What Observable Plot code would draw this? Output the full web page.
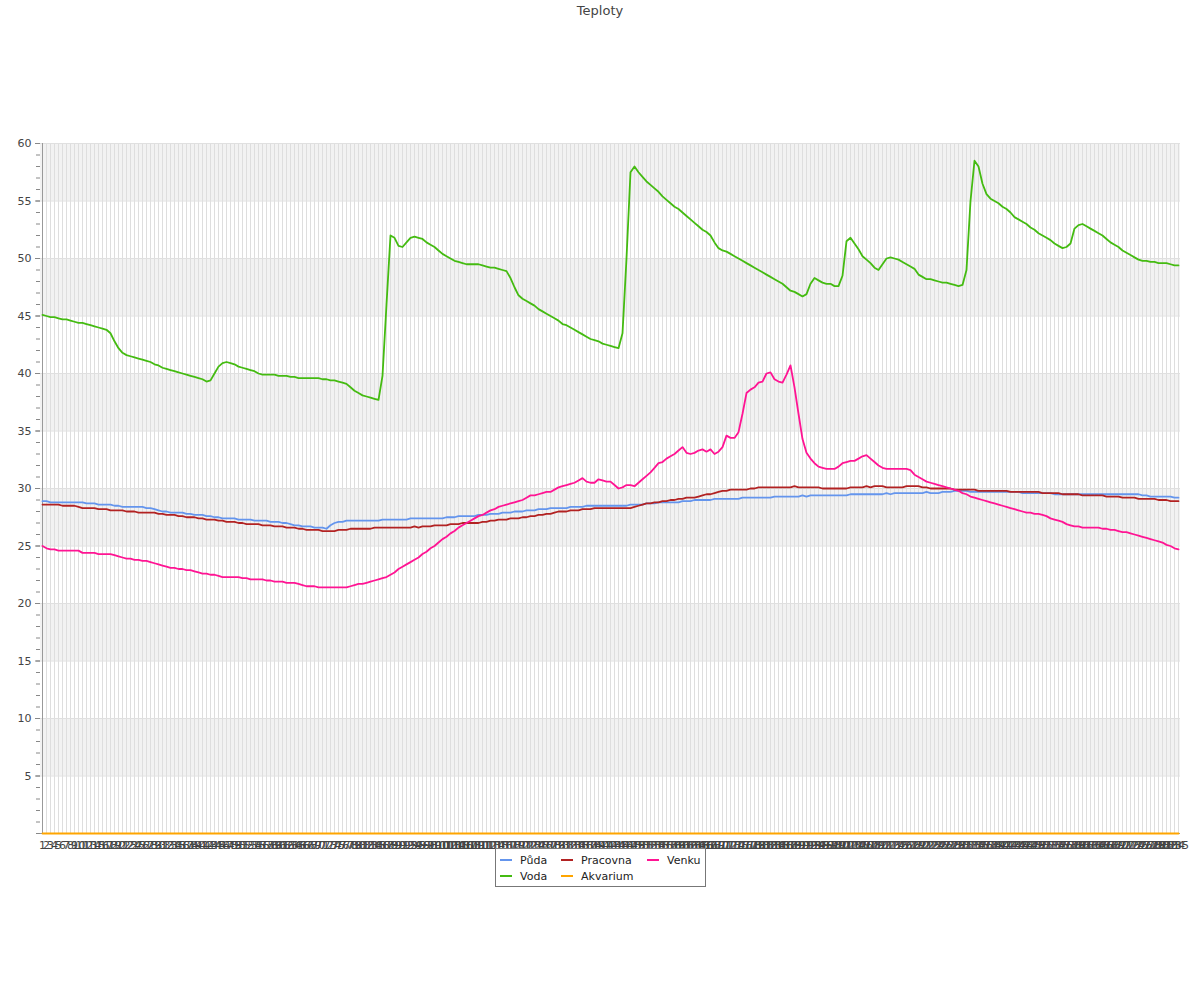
<!DOCTYPE html>
<html>
<head>
<meta charset="utf-8">
<script src="https://cdn.jsdelivr.net/npm/d3@7"></script>
<script src="https://cdn.jsdelivr.net/npm/@observablehq/plot@0.6"></script>
<style>
  html, body { margin: 0; padding: 0; background: #fff; }
  body { width: 1200px; height: 1000px; position: relative; font-family: "DejaVu Sans", sans-serif; }
  #title { position: absolute; top: 3px; left: 0; width: 1200px; text-align: center; font-size: 13px; color: #444; }
  #chart { position: absolute; top: 0; left: 0; }
  #legend { position: absolute; top: 848px; left: 495px; border: 1px solid #777; background: #fff;
            display: grid; grid-auto-flow: column; grid-template-rows: 16px 16px;
            grid-template-columns: 61px 86px 54px; padding: 3px 4px 2px 4px; font-size: 11px; color: #222; }
  .item { display: flex; align-items: center; white-space: nowrap; }
  .sw { width: 12px; height: 2px; margin-right: 8px; }
</style>
</head>
<body>
<div id="title">Teploty</div>
<div id="chart"></div>
<div id="legend"></div>
<script>
const labels = d3.range(1, 286).map(String);
const seriesNames = ["Půda", "Voda", "Pracovna", "Akvarium", "Venku"];
const seriesColors = ["#6495ed", "#44bb11", "#b22222", "#ffa500", "#ff1493"];
const yMajor = [5, 10, 15, 20, 25, 30, 35, 40, 45, 50, 55, 60];
const bandStarts = [5, 15, 25, 35, 45, 55];

const puda = [
28.9,28.9,28.8,28.8,28.8,28.8,28.8,28.8,28.8,28.8,
28.8,28.7,28.7,28.7,28.6,28.6,28.6,28.6,28.5,28.5,
28.4,28.4,28.4,28.4,28.4,28.4,28.3,28.3,28.2,28.1,
28.0,28.0,27.9,27.9,27.9,27.9,27.8,27.8,27.7,27.7,
27.7,27.6,27.6,27.5,27.5,27.4,27.4,27.4,27.4,27.3,
27.3,27.3,27.3,27.2,27.2,27.2,27.2,27.1,27.1,27.1,
27.0,27.0,26.9,26.8,26.8,26.7,26.7,26.7,26.6,26.6,
26.6,26.5,26.8,27.0,27.1,27.1,27.2,27.2,27.2,27.2,
27.2,27.2,27.2,27.2,27.2,27.3,27.3,27.3,27.3,27.3,
27.3,27.3,27.4,27.4,27.4,27.4,27.4,27.4,27.4,27.4,
27.4,27.5,27.5,27.5,27.6,27.6,27.6,27.6,27.6,27.7,
27.7,27.7,27.8,27.8,27.8,27.9,27.9,27.9,28.0,28.0,
28.0,28.1,28.1,28.1,28.2,28.2,28.2,28.3,28.3,28.3,
28.3,28.3,28.4,28.4,28.4,28.4,28.5,28.5,28.5,28.5,
28.5,28.5,28.5,28.5,28.5,28.5,28.5,28.6,28.6,28.6,
28.6,28.7,28.7,28.7,28.8,28.8,28.8,28.8,28.8,28.8,
28.9,28.9,28.9,29.0,29.0,29.0,29.0,29.0,29.1,29.1,
29.1,29.1,29.1,29.1,29.1,29.2,29.2,29.2,29.2,29.2,
29.2,29.2,29.2,29.3,29.3,29.3,29.3,29.3,29.3,29.3,
29.4,29.3,29.4,29.4,29.4,29.4,29.4,29.4,29.4,29.4,
29.4,29.4,29.5,29.5,29.5,29.5,29.5,29.5,29.5,29.5,
29.5,29.6,29.5,29.6,29.6,29.6,29.6,29.6,29.6,29.6,
29.6,29.7,29.6,29.6,29.6,29.7,29.7,29.7,29.8,29.8,
29.8,29.8,29.7,29.7,29.7,29.7,29.7,29.7,29.7,29.7,
29.7,29.7,29.7,29.7,29.7,29.6,29.6,29.6,29.6,29.6,
29.6,29.6,29.6,29.5,29.5,29.5,29.5,29.5,29.5,29.5,
29.5,29.5,29.5,29.5,29.5,29.5,29.5,29.5,29.5,29.5,
29.5,29.5,29.5,29.5,29.5,29.4,29.4,29.3,29.3,29.3,
29.3,29.3,29.3,29.2,29.2
];

const voda = [
45.1,45.0,44.9,44.9,44.8,44.7,44.7,44.6,44.5,44.4,
44.4,44.3,44.2,44.1,44.0,43.9,43.8,43.5,42.8,42.2,
41.8,41.6,41.5,41.4,41.3,41.2,41.1,41.0,40.8,40.7,
40.5,40.4,40.3,40.2,40.1,40.0,39.9,39.8,39.7,39.6,
39.5,39.3,39.4,40.0,40.6,40.9,41.0,40.9,40.8,40.6,
40.5,40.4,40.3,40.2,40.0,39.9,39.9,39.9,39.9,39.8,
39.8,39.8,39.7,39.7,39.6,39.6,39.6,39.6,39.6,39.6,
39.5,39.5,39.4,39.4,39.3,39.2,39.1,38.8,38.5,38.3,
38.1,38.0,37.9,37.8,37.7,39.8,46.0,52.0,51.8,51.1,
51.0,51.4,51.8,51.9,51.8,51.7,51.4,51.2,51.0,50.7,
50.4,50.2,50.0,49.8,49.7,49.6,49.5,49.5,49.5,49.5,
49.4,49.3,49.2,49.2,49.1,49.0,48.9,48.3,47.5,46.8,
46.5,46.3,46.1,45.9,45.6,45.4,45.2,45.0,44.8,44.6,
44.3,44.2,44.0,43.8,43.6,43.4,43.2,43.0,42.9,42.8,
42.6,42.5,42.4,42.3,42.2,43.5,50.0,57.5,58.0,57.5,
57.1,56.7,56.4,56.1,55.8,55.4,55.1,54.8,54.5,54.3,
54.0,53.7,53.4,53.1,52.8,52.5,52.3,52.0,51.4,50.9,
50.7,50.6,50.4,50.2,50.0,49.8,49.6,49.4,49.2,49.0,
48.8,48.6,48.4,48.2,48.0,47.8,47.5,47.2,47.1,46.9,
46.7,46.9,47.8,48.3,48.1,47.9,47.8,47.8,47.6,47.6,
48.5,51.5,51.8,51.3,50.8,50.2,49.9,49.6,49.2,49.0,
49.5,50.0,50.1,50.0,49.9,49.7,49.5,49.3,49.1,48.6,
48.4,48.2,48.2,48.1,48.0,47.9,47.9,47.8,47.7,47.6,
47.7,49.0,55.0,58.5,58.0,56.5,55.6,55.2,55.0,54.8,
54.5,54.3,54.0,53.6,53.4,53.2,53.0,52.7,52.5,52.2,
52.0,51.8,51.6,51.3,51.1,50.9,51.0,51.3,52.6,52.9,
53.0,52.8,52.6,52.4,52.2,52.0,51.7,51.4,51.2,51.0,
50.7,50.5,50.3,50.1,49.9,49.8,49.8,49.7,49.7,49.6,
49.6,49.6,49.5,49.4,49.4
];

const pracovna = [
28.6,28.6,28.6,28.6,28.6,28.5,28.5,28.5,28.5,28.4,
28.3,28.3,28.3,28.3,28.2,28.2,28.2,28.1,28.1,28.1,
28.1,28.0,28.0,28.0,27.9,27.9,27.9,27.9,27.9,27.8,
27.8,27.7,27.7,27.7,27.6,27.6,27.5,27.5,27.5,27.4,
27.4,27.3,27.3,27.3,27.2,27.2,27.1,27.1,27.1,27.0,
27.0,26.9,26.9,26.9,26.9,26.8,26.8,26.8,26.7,26.7,
26.7,26.6,26.6,26.6,26.5,26.5,26.4,26.4,26.4,26.4,
26.3,26.3,26.3,26.3,26.4,26.4,26.4,26.5,26.5,26.5,
26.5,26.5,26.5,26.6,26.6,26.6,26.6,26.6,26.6,26.6,
26.6,26.6,26.6,26.7,26.6,26.7,26.7,26.7,26.8,26.8,
26.8,26.8,26.9,26.9,26.9,27.0,27.0,27.0,27.0,27.0,
27.1,27.1,27.2,27.2,27.3,27.3,27.3,27.4,27.4,27.4,
27.5,27.5,27.6,27.6,27.7,27.7,27.8,27.8,27.9,28.0,
28.0,28.0,28.1,28.1,28.1,28.2,28.2,28.2,28.3,28.3,
28.3,28.3,28.3,28.3,28.3,28.3,28.3,28.3,28.4,28.5,
28.6,28.7,28.7,28.8,28.8,28.9,28.9,29.0,29.0,29.1,
29.1,29.2,29.2,29.2,29.3,29.4,29.5,29.5,29.6,29.7,
29.8,29.8,29.9,29.9,29.9,29.9,29.9,30.0,30.0,30.1,
30.1,30.1,30.1,30.1,30.1,30.1,30.1,30.1,30.2,30.1,
30.1,30.1,30.1,30.1,30.1,30.0,30.0,30.0,30.0,30.0,
30.0,30.0,30.1,30.1,30.1,30.1,30.2,30.1,30.2,30.2,
30.2,30.1,30.1,30.1,30.1,30.1,30.2,30.2,30.2,30.2,
30.1,30.1,30.0,30.0,30.0,30.0,30.0,30.0,29.9,29.9,
29.9,29.9,29.9,29.9,29.8,29.8,29.8,29.8,29.8,29.8,
29.8,29.8,29.7,29.7,29.7,29.7,29.7,29.7,29.7,29.7,
29.6,29.6,29.6,29.6,29.6,29.5,29.5,29.5,29.5,29.5,
29.4,29.4,29.4,29.4,29.4,29.4,29.3,29.3,29.3,29.3,
29.2,29.2,29.2,29.2,29.1,29.1,29.1,29.1,29.1,29.0,
29.0,29.0,28.9,28.9,28.9
];

const akvarium = [
0,0,0,0,0,0,0,0,0,0, 0,0,0,0,0,0,0,0,0,0, 0,0,0,0,0,0,0,0,0,0,
0,0,0,0,0,0,0,0,0,0, 0,0,0,0,0,0,0,0,0,0, 0,0,0,0,0,0,0,0,0,0,
0,0,0,0,0,0,0,0,0,0, 0,0,0,0,0,0,0,0,0,0, 0,0,0,0,0,0,0,0,0,0,
0,0,0,0,0,0,0,0,0,0, 0,0,0,0,0,0,0,0,0,0, 0,0,0,0,0,0,0,0,0,0,
0,0,0,0,0,0,0,0,0,0, 0,0,0,0,0,0,0,0,0,0, 0,0,0,0,0,0,0,0,0,0,
0,0,0,0,0,0,0,0,0,0, 0,0,0,0,0,0,0,0,0,0, 0,0,0,0,0,0,0,0,0,0,
0,0,0,0,0,0,0,0,0,0, 0,0,0,0,0,0,0,0,0,0, 0,0,0,0,0,0,0,0,0,0,
0,0,0,0,0,0,0,0,0,0, 0,0,0,0,0,0,0,0,0,0, 0,0,0,0,0,0,0,0,0,0,
0,0,0,0,0,0,0,0,0,0, 0,0,0,0,0,0,0,0,0,0, 0,0,0,0,0,0,0,0,0,0,
0,0,0,0,0,0,0,0,0,0, 0,0,0,0,0
];

const venku = [
25.0,24.8,24.7,24.7,24.6,24.6,24.6,24.6,24.6,24.6,
24.4,24.4,24.4,24.4,24.3,24.3,24.3,24.3,24.2,24.1,
24.0,23.9,23.9,23.8,23.8,23.7,23.7,23.6,23.5,23.4,
23.3,23.2,23.1,23.1,23.0,23.0,22.9,22.9,22.8,22.7,
22.6,22.6,22.5,22.5,22.4,22.3,22.3,22.3,22.3,22.3,
22.2,22.2,22.1,22.1,22.1,22.1,22.0,22.0,21.9,21.9,
21.9,21.8,21.8,21.8,21.7,21.6,21.5,21.5,21.5,21.4,
21.4,21.4,21.4,21.4,21.4,21.4,21.4,21.5,21.6,21.7,
21.7,21.8,21.9,22.0,22.1,22.2,22.3,22.5,22.7,23.0,
23.2,23.4,23.6,23.8,24.0,24.3,24.5,24.8,25.0,25.3,
25.6,25.8,26.1,26.3,26.6,26.8,27.0,27.2,27.4,27.6,
27.7,27.9,28.1,28.2,28.4,28.5,28.6,28.7,28.8,28.9,
29.0,29.2,29.4,29.4,29.5,29.6,29.7,29.7,29.9,30.1,
30.2,30.3,30.4,30.5,30.7,30.9,30.6,30.5,30.5,30.8,
30.7,30.6,30.6,30.3,30.0,30.1,30.3,30.3,30.2,30.5,
30.8,31.1,31.4,31.8,32.2,32.3,32.6,32.8,33.0,33.3,
33.6,33.1,33.0,33.1,33.3,33.4,33.2,33.4,33.0,33.2,
33.6,34.6,34.4,34.4,34.9,36.5,38.3,38.6,38.8,39.2,
39.3,40.0,40.1,39.5,39.3,39.2,39.9,40.7,38.8,36.5,
34.3,33.1,32.6,32.2,31.9,31.8,31.7,31.7,31.7,31.9,
32.2,32.3,32.4,32.4,32.6,32.8,32.9,32.6,32.3,32.0,
31.8,31.7,31.7,31.7,31.7,31.7,31.7,31.6,31.2,31.0,
30.8,30.6,30.5,30.4,30.3,30.2,30.1,30.0,29.9,29.8,
29.6,29.5,29.3,29.2,29.1,29.0,28.9,28.8,28.7,28.6,
28.5,28.4,28.3,28.2,28.1,28.0,27.9,27.9,27.8,27.8,
27.7,27.6,27.4,27.3,27.2,27.1,26.9,26.8,26.7,26.7,
26.6,26.6,26.6,26.6,26.6,26.5,26.5,26.4,26.4,26.3,
26.2,26.2,26.1,26.0,25.9,25.8,25.7,25.6,25.5,25.4,
25.3,25.1,25.0,24.8,24.7
];

const seriesValues = [puda, voda, pracovna, akvarium, venku];
const rows = [];
seriesNames.forEach((name, s) => {
  seriesValues[s].forEach((v, i) => { if (i < labels.length) rows.push({x: labels[i], y: v, name}); });
});

const chart = Plot.plot({
  width: 1200,
  height: 860,
  marginTop: 143,
  marginBottom: 27,
  marginLeft: 40,
  marginRight: 20,
  style: {fontFamily: "DejaVu Sans, sans-serif", fontSize: "11px", color: "#444", background: "transparent"},
  x: {type: "point", domain: labels, padding: 0, label: null},
  y: {domain: [0, 60], label: null},
  color: {domain: seriesNames, range: seriesColors},
  marks: [
    Plot.rect(bandStarts, {y1: d => d, y2: d => d + 5, fill: "#f2f2f2"}),
    Plot.ruleX(labels, {y1: 0, y2: 60, stroke: "#dedede", strokeWidth: 1}),
    Plot.ruleY(yMajor, {stroke: "#e0e0e0", strokeWidth: 1}),
    Plot.axisX({tickSize: 0, tickPadding: 8, fill: "#444", fontSize: 11, label: null}),
    Plot.axisY(d3.range(0, 61), {tickSize: 4, tickFormat: () => "", stroke: "#888", label: null}),
    Plot.axisY(yMajor, {tickSize: 5, tickPadding: 4, stroke: "#888", fill: "#444", fontSize: 11, label: null}),
    Plot.ruleX([labels[0]], {y1: 0, y2: 60, stroke: "#999"}),
    Plot.ruleY([0], {stroke: "#999"}),
    Plot.line(rows, {x: "x", y: "y", z: "name", stroke: "name", strokeWidth: 1.8})
  ]
});
document.getElementById("chart").appendChild(chart);

const legend = document.getElementById("legend");
seriesNames.forEach((name, i) => {
  const item = document.createElement("div");
  item.className = "item";
  const sw = document.createElement("span");
  sw.className = "sw";
  sw.style.background = seriesColors[i];
  item.appendChild(sw);
  item.appendChild(document.createTextNode(name));
  legend.appendChild(item);
});
</script>
</body>
</html>
